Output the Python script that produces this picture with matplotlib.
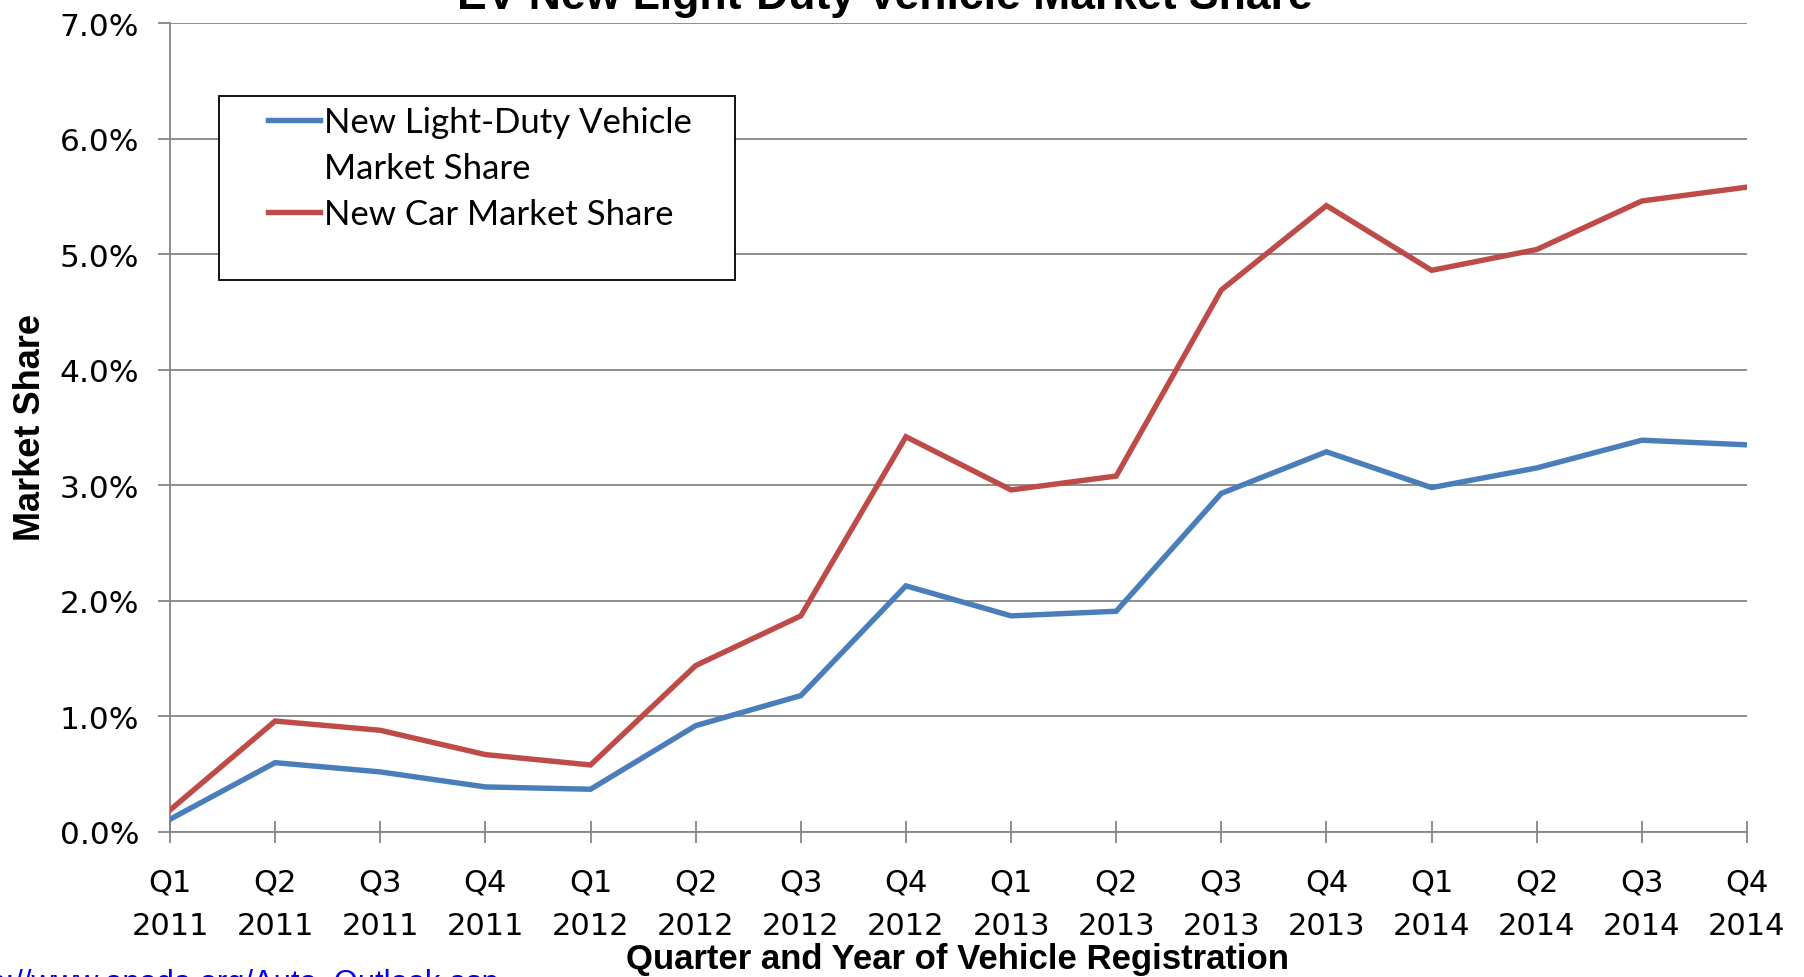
import matplotlib
matplotlib.use("Agg")
import matplotlib.pyplot as plt
from matplotlib.patches import Rectangle
from matplotlib.lines import Line2D

quarters = ["Q1", "Q2", "Q3", "Q4"] * 4
years = ["2011"] * 4 + ["2012"] * 4 + ["2013"] * 4 + ["2014"] * 4
tick_labels = [f"{q}\n{y}" for q, y in zip(quarters, years)]

light_duty_share = [0.11, 0.60, 0.52, 0.39, 0.37, 0.92, 1.18, 2.13,
                    1.87, 1.91, 2.93, 3.29, 2.98, 3.15, 3.39, 3.35]
car_share = [0.19, 0.96, 0.88, 0.67, 0.58, 1.44, 1.87, 3.42,
             2.96, 3.08, 4.69, 5.42, 4.86, 5.04, 5.46, 5.58]
y_ticks = [0, 1, 2, 3, 4, 5, 6, 7]

series_label_lines = ["New Light-Duty Vehicle", "Market Share", "New Car Market Share"]
blue = "#4A7EBB"
red = "#BE4B48"
grid_c = "#868686"

W, H = 1804, 978
fig = plt.figure(figsize=(W / 100, H / 100), dpi=100)
L, R, T, B = 170, 1747, 24, 833
ax = fig.add_axes([L / W, 1 - B / H, (R - L) / W, (B - T) / H])

x = list(range(len(tick_labels)))
l1, = ax.plot(x, light_duty_share, color=blue, lw=3.9, solid_joinstyle="miter", zorder=3)
l2, = ax.plot(x, car_share, color=red, lw=3.9, solid_joinstyle="miter", zorder=3)

ax.set_xlim(0, len(x) - 1)
ax.set_ylim(0, 7)
ax.set_yticks(y_ticks)
ax.set_yticklabels([f"{v:.1f}%" for v in y_ticks])
ax.set_xticks(x)
ax.set_xticklabels(tick_labels, linespacing=1.66)

ax.yaxis.grid(True, color=grid_c, lw=1.3)
ax.set_axisbelow(True)
for s in ["top", "right"]:
    ax.spines[s].set_visible(False)
for s in ["left", "bottom"]:
    ax.spines[s].set_color(grid_c)
    ax.spines[s].set_linewidth(1.3)

ax.tick_params(axis="y", direction="out", length=8.3, width=1.3, color=grid_c,
               pad=14, labelsize=22.5)
ax.tick_params(axis="x", direction="inout", length=16.5, width=1.3, color=grid_c,
               pad=17, labelsize=22)
for lab in ax.get_xticklabels() + ax.get_yticklabels():
    lab.set_family("DejaVu Sans")

bold_fam = ["Liberation Sans", "DejaVu Sans"]
fig.text(31 / W, 1 - 428 / H, "Market Share", rotation=90, ha="center", va="center",
         fontsize=26, fontweight="bold", family=bold_fam)
fig.text(958 / W, 1 - 969 / H, "Quarter and Year of Vehicle Registration",
         ha="center", va="baseline", fontsize=25, fontweight="bold", family=bold_fam)
fig.text(885 / W, 1 - 9 / H, "EV New Light-Duty Vehicle Market Share",
         ha="center", va="baseline", fontsize=32, fontweight="bold", family=bold_fam)
fig.text(-45 / W, 1 - 992 / H, "http://www.anada.org/Auto_Outlook.asp",
         ha="left", va="baseline", fontsize=22.2, color="#0000EE", family="Liberation Sans")

# legend frame
fig.patches.append(Rectangle((219 / W, 1 - 281 / H), (735 - 219) / W, (281 - 97) / H,
                             transform=fig.transFigure, facecolor="white",
                             edgecolor="black", lw=1.3, zorder=5))
blank = Line2D([], [], color="none")
leg = fig.legend([l1, blank, l2], series_label_lines, loc="upper left",
                 bbox_to_anchor=(237 / W, 1 - 76 / H), frameon=False,
                 handlelength=1.5, handletextpad=0.12, labelspacing=0.4,
                 prop={"family": "Lato", "size": 25})
leg.set_zorder(6)

fig.savefig("out.png", dpi=100)
